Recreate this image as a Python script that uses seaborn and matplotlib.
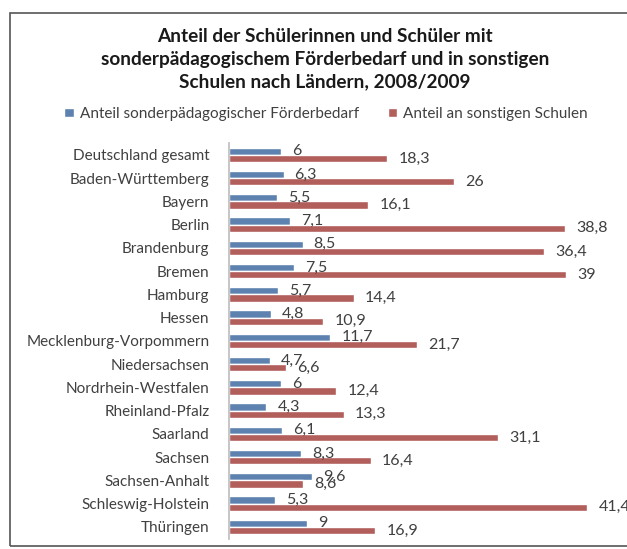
import seaborn as sns
import pandas as pd
import matplotlib.pyplot as plt
from matplotlib.patches import Rectangle

laender = ["Deutschland gesamt", "Baden-Württemberg", "Bayern", "Berlin", "Brandenburg",
           "Bremen", "Hamburg", "Hessen", "Mecklenburg-Vorpommern", "Niedersachsen",
           "Nordrhein-Westfalen", "Rheinland-Pfalz", "Saarland", "Sachsen",
           "Sachsen-Anhalt", "Schleswig-Holstein", "Thüringen"]
foerderbedarf = [6, 6.3, 5.5, 7.1, 8.5, 7.5, 5.7, 4.8, 11.7, 4.7, 6, 4.3, 6.1, 8.3, 9.6, 5.3, 9]
sonstige = [18.3, 26, 16.1, 38.8, 36.4, 39, 14.4, 10.9, 21.7, 6.6, 12.4, 13.3, 31.1, 16.4, 8.6, 41.4, 16.9]
serien = ["Anteil sonderpädagogischer Förderbedarf", "Anteil an sonstigen Schulen"]

df = pd.concat([
    pd.DataFrame({"Land": laender, "Wert": foerderbedarf, "Serie": serien[0]}),
    pd.DataFrame({"Land": laender, "Wert": sonstige, "Serie": serien[1]}),
], ignore_index=True)

sns.set_theme(style="white")
plt.rcParams['font.family'] = ['Lato', 'DejaVu Sans']
text_col = "#404040"

fig = plt.figure(figsize=(6.27, 5.49), dpi=100)
ax = fig.add_axes([229 / 627, 0.019, 1 - 229 / 627, 0.72])

sns.barplot(data=df, y="Land", x="Wert", hue="Serie", orient="h",
            palette=["#4F81BD", "#C0504D"], width=0.62, ax=ax, legend=True)

for cont in ax.containers:
    ax.bar_label(cont, labels=[f"{v:g}".replace('.', ',') for v in cont.datavalues],
                 padding=8, fontsize=11.5, color=text_col)

ax.set_xlim(0, 46)
ax.set_xlabel("")
ax.set_ylabel("")
ax.set_xticks([])
ax.tick_params(axis="y", length=0, pad=14, labelsize=11, labelcolor=text_col)
for s in ["top", "right", "bottom"]:
    ax.spines[s].set_visible(False)
ax.spines["left"].set_color("#BFBFBF")

leg = ax.legend(loc="center", bbox_to_anchor=(0.52, 1 - 114 / 549), bbox_transform=fig.transFigure,
                ncol=2, frameon=False, fontsize=11, handlelength=0.6, handleheight=0.6,
                columnspacing=1.9, handletextpad=0.4)
for t in leg.get_texts():
    t.set_color(text_col)

fig.text(0.518, 1 - 59 / 549,
         "Anteil der Schülerinnen und Schüler mit\nsonderpädagogischem Förderbedarf und in sonstigen\nSchulen nach Ländern, 2008/2009",
         ha="center", va="center", fontsize=13.7, fontweight="bold", color="#1a1a1a", linespacing=1.4)

fig.patches.append(Rectangle((10 / 627, 3 / 549), 1.0, 1 - 16 / 549, transform=fig.transFigure,
                             fill=False, edgecolor="#555555", linewidth=1.2))

fig.savefig("out.png", dpi=100)
